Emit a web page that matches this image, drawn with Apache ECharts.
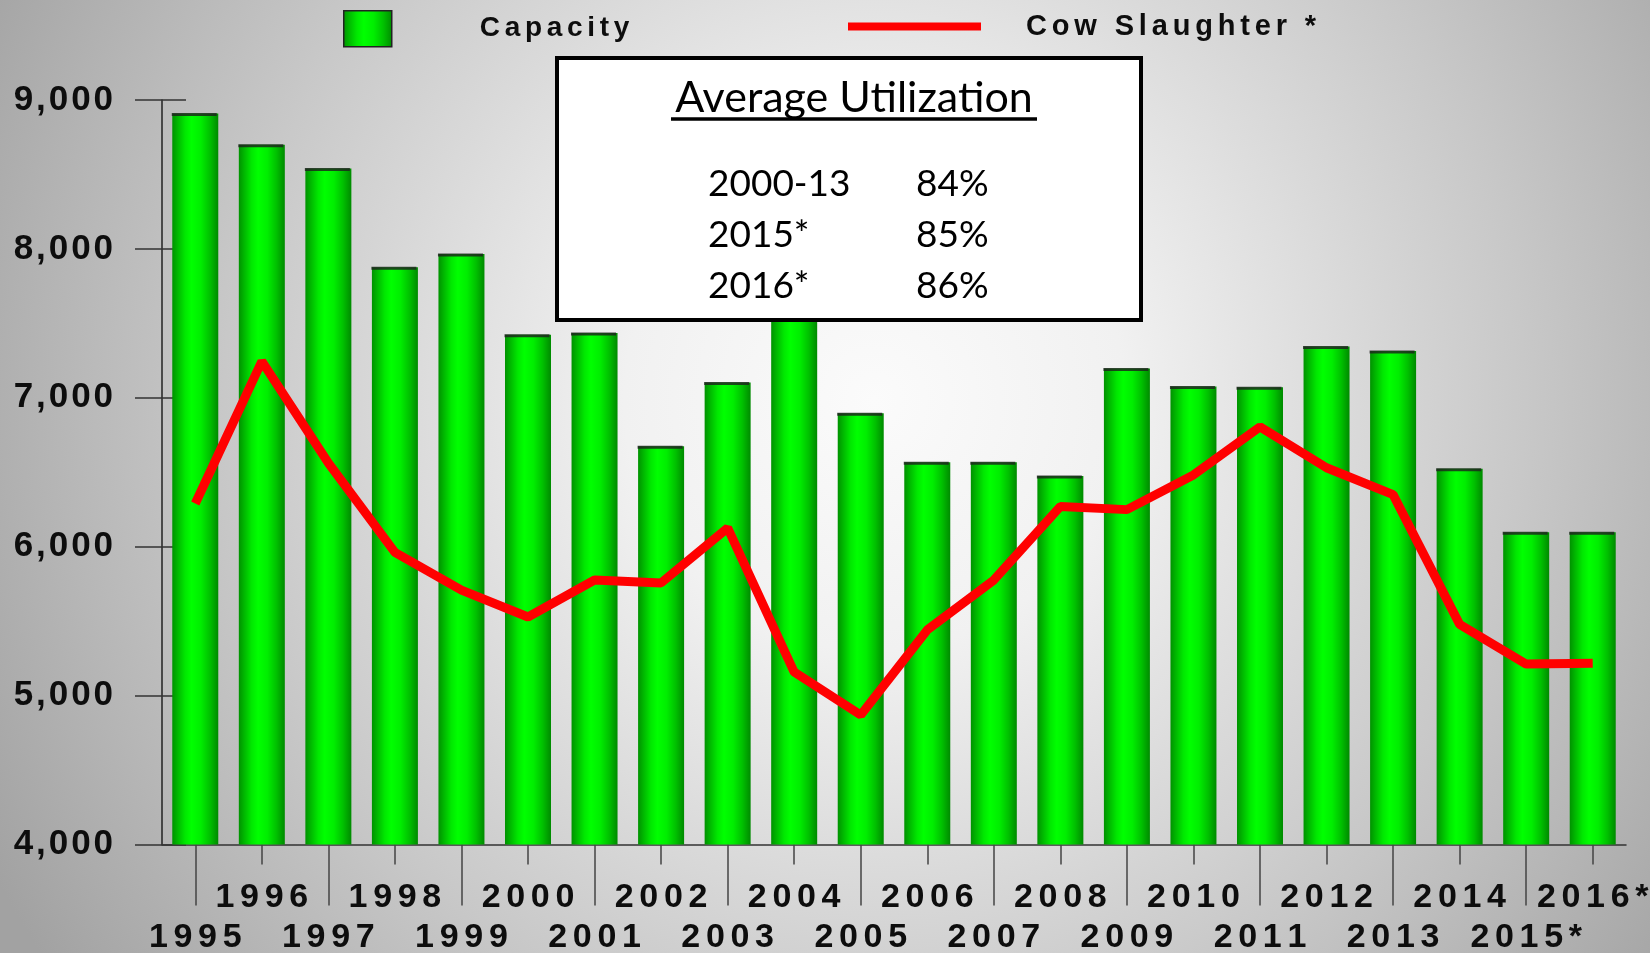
<!DOCTYPE html>
<html>
<head>
<meta charset="utf-8">
<script src="https://cdn.jsdelivr.net/npm/echarts@6/dist/echarts.min.js"></script>
<style>
  html, body { margin: 0; padding: 0; }
  #chart { width: 1650px; height: 953px; }
</style>
</head>
<body>
<div id="chart"></div>
<script>
// ---- data ----
const years = ['1995','1996','1997','1998','1999','2000','2001','2002','2003','2004','2005',
               '2006','2007','2008','2009','2010','2011','2012','2013','2014','2015*','2016*'];
const capacity = [8910, 8700, 8540, 7876, 7966, 7424, 7435, 6675, 7103, 7600, 6897,
                  6567, 6567, 6475, 7197, 7076, 7071, 7345, 7314, 6523, 6097, 6097];
const cowSlaughter = [6290, 7245, 6562, 5962, 5708, 5528, 5776, 5757, 6126, 5158, 4870,
                      5441, 5776, 6270, 6249, 6482, 6805, 6530, 6350, 5478, 5212, 5218];
const yMin = 4000, yMax = 9000, yStep = 1000;
const utilPeriods = ['2000-13', '2015*', '2016*'];
const utilValues = ['84%', '85%', '86%'];
const boxTitle = 'Average Utilization';

// ---- helpers ----
const HS = '\u200A';
function spaced(s, sp) { return String(s).split('').join(sp || HS); }
function fmtThousands(v) { return String(v).replace(/\B(?=(\d{3})+(?!\d))/g, ','); }

const labelFont = { fontFamily: '"Liberation Sans", Arial, sans-serif', fontWeight: 'bold', color: '#0d0d0d' };

const chart = echarts.init(document.getElementById('chart'), null, { renderer: 'canvas' });

const boxX = 557, boxY = 58, boxW = 584, boxH = 262;
const rowYs = [184, 235, 286];
const graphicEls = [
  { type: 'rect', z: 100, shape: { x: boxX, y: boxY, width: boxW, height: boxH },
    style: { fill: '#ffffff', stroke: '#000000', lineWidth: 4 } },
  { type: 'text', z: 101, x: 854, y: 98,
    style: { text: boxTitle, font: '43px Lato', fill: '#000', align: 'center', verticalAlign: 'middle' } },
  { type: 'line', z: 101, shape: { x1: 671, y1: 119, x2: 1037, y2: 119 },
    style: { stroke: '#000', lineWidth: 3.5 } }
];
utilPeriods.forEach(function (p, i) {
  graphicEls.push({ type: 'text', z: 101, x: 708, y: rowYs[i],
    style: { text: p, font: '37px Lato', fill: '#000', align: 'left', verticalAlign: 'middle' } });
  graphicEls.push({ type: 'text', z: 101, x: 916, y: rowYs[i],
    style: { text: utilValues[i], font: '37px Lato', fill: '#000', align: 'left', verticalAlign: 'middle' } });
});

const barGradient = new echarts.graphic.LinearGradient(0, 0, 1, 0, [
  { offset: 0, color: '#009200' },
  { offset: 0.12, color: '#00b800' },
  { offset: 0.28, color: '#00e800' },
  { offset: 0.42, color: '#00ff00' },
  { offset: 0.62, color: '#00ee00' },
  { offset: 0.82, color: '#00c000' },
  { offset: 1, color: '#008a00' }
]);

const option = {
  animation: false,
  backgroundColor: {
    type: 'radial', x: 0.53, y: 0.42, r: 1.05,
    colorStops: [
      { offset: 0, color: '#fbfbfb' },
      { offset: 0.25, color: '#f1f1f1' },
      { offset: 0.65, color: '#c8c8c8' },
      { offset: 1, color: '#a2a2a2' }
    ]
  },
  grid: { left: 162, right: 24, top: 100, bottom: 108.5, outerBoundsMode: 'none', containLabel: false },
  legend: [
    {
      data: ['Capacity'], left: 343, top: 10, padding: 0, selectedMode: false,
      icon: 'rect', itemWidth: 48, itemHeight: 36,
      itemStyle: { borderColor: '#222', borderWidth: 1.5 },
      formatter: function (n) { return spaced(n, HS + HS); },
      textStyle: Object.assign({ fontSize: 28, padding: [2, 0, 0, 83] }, labelFont)
    },
    {
      data: ['Cow Slaughter *'], left: 848, top: 12, padding: 0, selectedMode: false,
      icon: 'rect', itemWidth: 133, itemHeight: 8,
      formatter: function (n) { return spaced(n, HS + HS); },
      textStyle: Object.assign({ fontSize: 29, padding: [2, 0, 0, 40] }, labelFont)
    }
  ],
  xAxis: [
    {
      type: 'category', data: years, position: 'bottom', boundaryGap: true,
      axisLine: { show: true, lineStyle: { color: '#333', width: 1.5 } },
      axisTick: { show: true, alignWithLabel: true, length: 61,
                  interval: function (i) { return i % 2 === 0; },
                  lineStyle: { color: '#444', width: 1.5 } },
      axisLabel: Object.assign({ interval: function (i) { return i % 2 === 0; }, margin: 76, fontSize: 34,
                  formatter: function (v) { return spaced(v, HS + HS); } }, labelFont),
      splitLine: { show: false }
    },
    {
      type: 'category', data: years, position: 'bottom', boundaryGap: true, gridIndex: 0,
      axisLine: { show: false },
      axisTick: { show: true, alignWithLabel: true, length: 20,
                  interval: function (i) { return i % 2 === 1; },
                  lineStyle: { color: '#444', width: 1.5 } },
      axisLabel: Object.assign({ interval: function (i) { return i % 2 === 1; }, margin: 36, fontSize: 34,
                  formatter: function (v) { return spaced(v, HS + HS); } }, labelFont),
      splitLine: { show: false }
    }
  ],
  yAxis: [
    {
      type: 'value', min: yMin, max: yMax, interval: yStep, position: 'left',
      axisLine: { show: true, lineStyle: { color: '#222', width: 1.5 } },
      axisTick: { show: true, length: 27, lineStyle: { color: '#333', width: 1.5 } },
      axisLabel: Object.assign({ margin: 49, fontSize: 35, lineHeight: 35, padding: [8, 0, 0, 0],
                  formatter: function (v) { return spaced(fmtThousands(v)); } }, labelFont),
      splitLine: { show: false }
    },
    {
      type: 'value', min: yMin, max: yMax, interval: yStep, position: 'left',
      axisLine: { show: false },
      axisTick: { show: true, inside: true, length: 24, lineStyle: { color: '#333', width: 1.5 } },
      axisLabel: { show: false },
      splitLine: { show: false }
    }
  ],
  series: [
    {
      name: 'Capacity', type: 'bar', data: capacity, barWidth: 46, z: 2,
      itemStyle: { color: barGradient }
    },
    {
      name: 'capTop', type: 'scatter', data: capacity, symbol: 'rect', symbolSize: [45, 3],
      symbolOffset: [-1, 1], itemStyle: { color: '#1e1e1e' }, z: 3, silent: true
    },
    {
      name: 'Cow Slaughter *', type: 'line', data: cowSlaughter, z: 4,
      symbol: 'none', showSymbol: false,
      lineStyle: { color: '#ff0000', width: 9 }, itemStyle: { color: '#ff0000' }
    }
  ],
  graphic: graphicEls
};

chart.setOption(option);
</script>
</body>
</html>
